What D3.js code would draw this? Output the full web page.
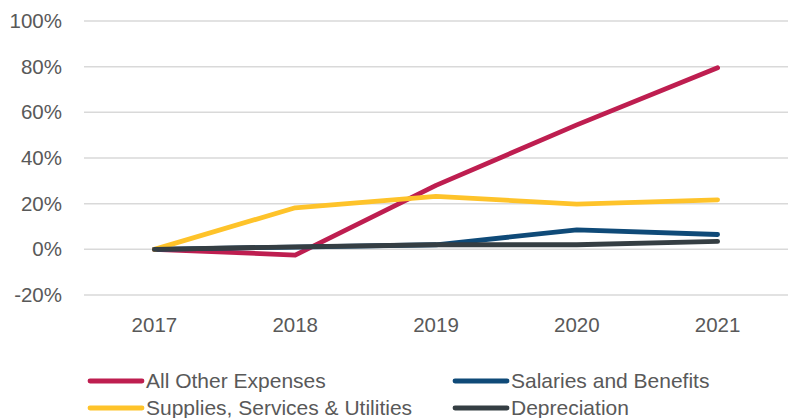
<!DOCTYPE html>
<html>
<head>
<meta charset="utf-8">
<script src="https://cdn.jsdelivr.net/npm/d3@7"></script>
<style>
  body { margin: 0; background: #fff; }
  text { font-family: "Liberation Sans", Arial, sans-serif; fill: #595959; }
</style>
</head>
<body>
<div id="chart"></div>
<script>
var years = ["2017", "2018", "2019", "2020", "2021"];
var yTicks = [-0.2, 0, 0.2, 0.4, 0.6, 0.8, 1.0];

var allOther = [0, -0.025, 0.28, 0.545, 0.795];
var salaries = [0, 0.01, 0.02, 0.085, 0.065];
var supplies = [0, 0.182, 0.232, 0.198, 0.217];
var depreciation = [0, 0.011, 0.02, 0.02, 0.035];

var seriesNames = ["All Other Expenses", "Salaries and Benefits", "Supplies, Services & Utilities", "Depreciation"];
var seriesColors = ["#be1e50", "#0f4a78", "#fec32a", "#353e43"];
var seriesValues = [allOther, salaries, supplies, depreciation];

var width = 788, height = 418;

var svg = d3.select("#chart").append("svg")
    .attr("width", width)
    .attr("height", height);

var x = d3.scaleBand().domain(years).range([84, 788]).padding(0);
var y = d3.scaleLinear().domain([-0.2, 1.0]).range([295, 21]);

// gridlines
svg.append("g").selectAll("line")
    .data(yTicks)
    .enter().append("line")
    .attr("x1", 84).attr("x2", 788)
    .attr("y1", function(d) { return y(d); })
    .attr("y2", function(d) { return y(d); })
    .style("stroke", "#d9d9d9")
    .style("stroke-width", 1.5);

// y labels
svg.append("g").selectAll("text")
    .data(yTicks)
    .enter().append("text")
    .attr("x", 62)
    .attr("y", function(d) { return y(d) + 7; })
    .attr("text-anchor", "end")
    .style("font-size", "20.5px")
    .text(function(d) { return Math.round(d * 100) + "%"; });

// x labels
svg.append("g").selectAll("text")
    .data(years)
    .enter().append("text")
    .attr("x", function(d) { return x(d) + x.bandwidth() / 2; })
    .attr("y", 332)
    .attr("text-anchor", "middle")
    .style("font-size", "20.5px")
    .text(function(d) { return d; });

var line = d3.line()
    .x(function(d, i) { return x(years[i]) + x.bandwidth() / 2; })
    .y(function(d) { return y(d); });

svg.append("g").selectAll("path")
    .data(seriesValues)
    .enter().append("path")
    .attr("d", function(d) { return line(d); })
    .style("fill", "none")
    .style("stroke", function(d, i) { return seriesColors[i]; })
    .style("stroke-width", 4.8)
    .style("stroke-linecap", "round")
    .style("stroke-linejoin", "round");

// legend (2 columns)
var legendPos = [[88, 381], [453, 381], [88, 408], [453, 408]];
var leg = svg.append("g").selectAll("g")
    .data(seriesNames)
    .enter().append("g")
    .attr("transform", function(d, i) { return "translate(" + legendPos[i][0] + "," + legendPos[i][1] + ")"; });

leg.append("line")
    .attr("x1", 2).attr("x2", 54)
    .attr("y1", 0).attr("y2", 0)
    .style("stroke", function(d, i) { return seriesColors[i]; })
    .style("stroke-width", 4.8)
    .style("stroke-linecap", "round");

leg.append("text")
    .attr("x", 58)
    .attr("y", 7)
    .style("font-size", "21px")
    .text(function(d) { return d; });
</script>
</body>
</html>
